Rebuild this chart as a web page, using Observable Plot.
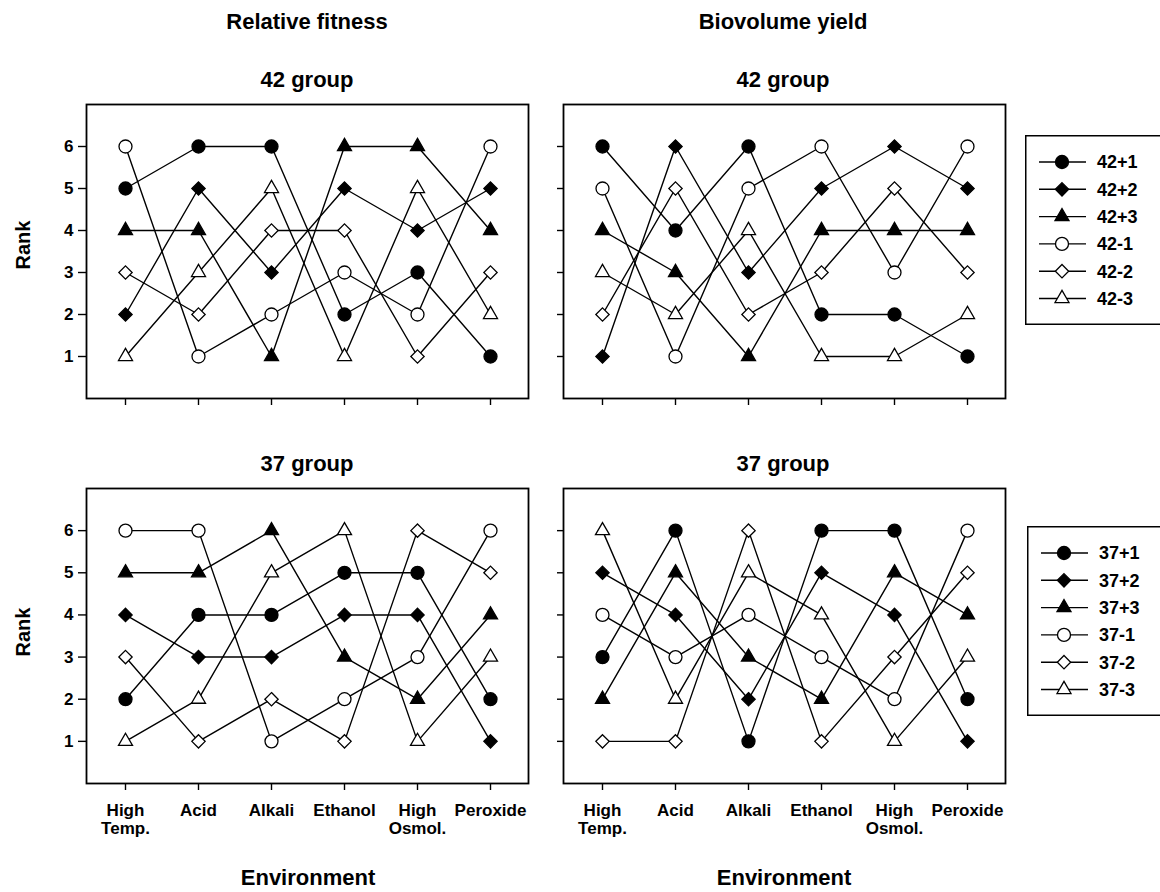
<!DOCTYPE html>
<html><head><meta charset="utf-8">
<script src="https://cdn.jsdelivr.net/npm/d3@7"></script>
<script src="https://cdn.jsdelivr.net/npm/@observablehq/plot@0.6"></script>
<style>
html,body{margin:0;padding:0;background:#fff;overflow:hidden;}
#fig{position:relative;width:1160px;height:892px;font-family:"Liberation Sans",Arial,Helvetica,sans-serif;color:#000;overflow:hidden;}
.t{position:absolute;transform:translate(-50%,-50%);white-space:nowrap;font-weight:bold;line-height:1;}
.rot{transform:translate(-50%,-50%) rotate(-90deg);}
</style></head><body><div id="fig"></div>
<script>
// ---------- data ----------
const environments = ["High Temp.", "Acid", "Alkali", "Ethanol", "High Osmol.", "Peroxide"];
const envTickLabels = ["High\nTemp.", "Acid", "Alkali", "Ethanol", "High\nOsmol.", "Peroxide"];
const yTicks = [1, 2, 3, 4, 5, 6];
const strains42 = ["42+1", "42+2", "42+3", "42-1", "42-2", "42-3"];
const strains37 = ["37+1", "37+2", "37+3", "37-1", "37-2", "37-3"];
// ranks: one row per strain (order above), one column per environment
const fitness42 = [[5,6,6,2,3,1],[2,5,3,5,4,5],[4,4,1,6,6,4],[6,1,2,3,2,6],[3,2,4,4,1,3],[1,3,5,1,5,2]];
const yield42   = [[6,4,6,2,2,1],[1,6,3,5,6,5],[4,3,1,4,4,4],[5,1,5,6,3,6],[2,5,2,3,5,3],[3,2,4,1,1,2]];
const fitness37 = [[2,4,4,5,5,2],[4,3,3,4,4,1],[5,5,6,3,2,4],[6,6,1,2,3,6],[3,1,2,1,6,5],[1,2,5,6,1,3]];
const yield37   = [[3,6,1,6,6,2],[5,4,2,5,4,1],[2,5,3,2,5,4],[4,3,4,3,2,6],[1,1,6,1,3,5],[6,2,5,4,1,3]];

// ---------- styles ----------
const FONT = '"Liberation Sans", Arial, Helvetica, sans-serif';
const markerStyle = [
  {symbol: d3.symbolCircle,   r: 6.5, fill: "black"},
  {symbol: d3.symbolDiamond2, r: 6,   fill: "black"},
  {symbol: d3.symbolTriangle, r: 5.2, fill: "black"},
  {symbol: d3.symbolCircle,   r: 6.5, fill: "white"},
  {symbol: d3.symbolDiamond2, r: 6,   fill: "white"},
  {symbol: d3.symbolTriangle, r: 5.2, fill: "white"}
];

const fig = document.getElementById("fig");

function tidy(matrix, strains) {
  return matrix.flatMap((ranks, i) => ranks.map((rank, j) => ({strain: strains[i], idx: i, env: environments[j], rank})));
}

function panel(matrix, strains, {left, top, marginLeft, showY, showX}) {
  const data = tidy(matrix, strains);
  const frameW = 442, frameH = showX ? 295 : 294;
  const marginTop = 6, marginRight = 12, marginBottom = showX ? 70 : 24;
  const plot = Plot.plot({
    width: marginLeft + frameW + marginRight,
    height: marginTop + frameH + marginBottom,
    marginLeft, marginRight, marginTop, marginBottom,
    style: {fontFamily: FONT, fontSize: "17px", fontWeight: "bold", background: "transparent", color: "black", overflow: "visible"},
    x: {type: "point", domain: environments, padding: 0.5},
    y: {domain: [0, 7]},
    marks: [
      Plot.axisY({ticks: yTicks, tickSize: showY ? 8 : 6, tickPadding: 5, strokeWidth: 1.4,
        tickFormat: showY ? d => String(d) : () => "", label: null}),
      Plot.axisX({tickSize: 7, tickPadding: 13, strokeWidth: 1.4, lineHeight: 1.05,
        tickFormat: showX ? d => envTickLabels[environments.indexOf(d)] : () => "", label: null}),
      Plot.line(data, {x: "env", y: "rank", z: "strain", stroke: "black", strokeWidth: 1.4}),
      ...markerStyle.map((m, i) => Plot.dot(data.filter(d => d.idx === i), {
        x: "env", y: "rank", symbol: m.symbol, r: m.r, fill: m.fill, stroke: "black", strokeWidth: 1.3
      })),
      Plot.frame({stroke: "black", strokeWidth: 1.8})
    ]
  });
  plot.style.position = "absolute";
  plot.style.left = left + "px";
  plot.style.top = top + "px";
  fig.appendChild(plot);
}

panel(fitness42, strains42, {left: 0,   top: 98,  marginLeft: 86, showY: true,  showX: false});
panel(yield42,   strains42, {left: 540, top: 98,  marginLeft: 23, showY: false, showX: false});
panel(fitness37, strains37, {left: 0,   top: 482, marginLeft: 86, showY: true,  showX: true});
panel(yield37,   strains37, {left: 540, top: 482, marginLeft: 23, showY: false, showX: true});

function legend(strains, left, top) {
  const w = 160, h = 190;
  const svg = d3.create("svg").attr("width", w).attr("height", h)
    .style("position", "absolute").style("left", left + "px").style("top", top + "px");
  svg.append("rect").attr("x", 0.75).attr("y", 0.75).attr("width", w + 10).attr("height", h - 1.5)
    .attr("fill", "white").attr("stroke", "black").attr("stroke-width", 1.5);
  strains.forEach((s, i) => {
    const y = 27 + i * 27.3;
    const m = markerStyle[i];
    svg.append("line").attr("x1", 14).attr("x2", 61).attr("y1", y).attr("y2", y)
      .attr("stroke", "black").attr("stroke-width", 1.4);
    svg.append("path").attr("transform", `translate(37,${y})`)
      .attr("d", d3.symbol(m.symbol, Math.PI * m.r * m.r)())
      .attr("fill", m.fill).attr("stroke", "black").attr("stroke-width", 1.3);
    svg.append("text").attr("x", 72).attr("y", y).attr("dy", "0.36em").text(s)
      .style("font-family", FONT).style("font-size", "18px").style("font-weight", "bold");
  });
  fig.appendChild(svg.node());
}
legend(strains42, 1025, 135);
legend(strains37, 1027, 526);

function label(text, x, y, size, extra = "") {
  const d = document.createElement("div");
  d.className = "t " + extra;
  d.style.left = x + "px";
  d.style.top = y + "px";
  d.style.fontSize = size + "px";
  d.textContent = text;
  fig.appendChild(d);
}
label("Relative fitness", 307, 22, 22);
label("Biovolume yield", 783, 22, 22);
label("42 group", 307, 80, 22);
label("42 group", 783, 80, 22);
label("37 group", 307, 464, 22);
label("37 group", 783, 464, 22);
label("Rank", 23, 245, 20, "rot");
label("Rank", 23, 632, 20, "rot");
label("Environment", 308, 878, 22);
label("Environment", 784, 878, 22);
</script>
</body></html>
